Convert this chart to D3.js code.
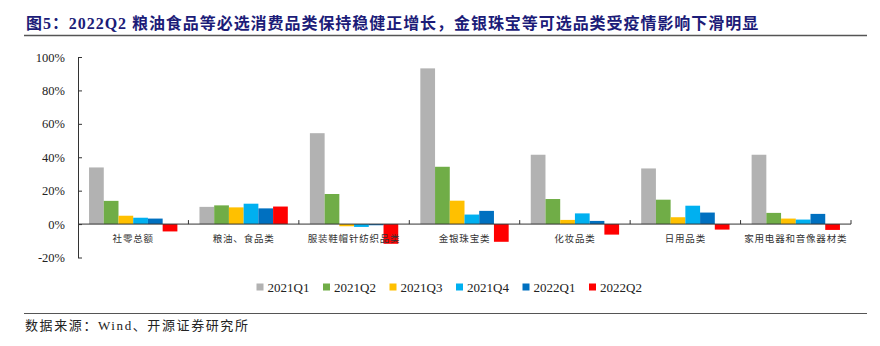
<!DOCTYPE html>
<html>
<head>
<meta charset="utf-8">
<script src="https://cdn.jsdelivr.net/npm/d3@7"></script>
<style>
  html, body { margin: 0; padding: 0; background: #fff; }
  svg { display: block; }
</style>
</head>
<body>
<svg id="chart" width="880" height="346"></svg>
<script>
// Retail sales growth by category, single-quarter YoY (%)
const categories = ["社零总额", "粮油、食品类", "服装鞋帽针纺织品类", "金银珠宝类", "化妆品类", "日用品类", "家用电器和音像器材类"];
const seriesNames = ["2021Q1", "2021Q2", "2021Q3", "2021Q4", "2022Q1", "2022Q2"];
const s2021Q1 = [33.9, 10.3, 54.4, 93.2, 41.5, 33.3, 41.5];
const s2021Q2 = [13.9, 11.2, 18.0, 34.3, 15.0, 14.6, 6.7];
const s2021Q3 = [5.0, 10.0, -1.3, 14.0, 2.5, 4.1, 3.3];
const s2021Q4 = [3.8, 12.2, -1.7, 5.7, 6.4, 11.0, 2.7];
const s2022Q1 = [3.3, 9.4, -0.7, 7.9, 1.9, 6.9, 6.1];
const s2022Q2 = [-4.4, 10.5, -11.8, -10.6, -6.3, -3.3, -3.5];
const seriesValues = [s2021Q1, s2021Q2, s2021Q3, s2021Q4, s2022Q1, s2022Q2];
const seriesColors = ["#b2b2b2", "#70ad47", "#ffc000", "#00b0f0", "#0070c0", "#ff0000"];
const yTicks = [-20, 0, 20, 40, 60, 80, 100];

const title = "图5：2022Q2 粮油食品等必选消费品类保持稳健正增长，金银珠宝等可选品类受疫情影响下滑明显";
const source = "数据来源：Wind、开源证券研究所";

const svg = d3.select("#chart");
const plot = { left: 78, right: 851, top: 57, bottom: 257.5 };

// Title and rules
svg.append("text")
  .attr("x", 26).attr("y", 29)
  .attr("fill", "#1c1c78")
  .attr("font-family", "'Liberation Serif', 'Noto Sans CJK SC', serif")
  .attr("font-weight", "bold")
  .attr("font-size", 16)
  .attr("letter-spacing", 0.95)
  .text(title);
svg.append("line").attr("x1", 24).attr("x2", 867).attr("y1", 35.5).attr("y2", 35.5)
  .attr("stroke", "#555").attr("stroke-width", 1.5);
svg.append("line").attr("x1", 24).attr("x2", 867).attr("y1", 313.5).attr("y2", 313.5)
  .attr("stroke", "#555").attr("stroke-width", 1.2);
svg.append("text")
  .attr("x", 25).attr("y", 330)
  .attr("fill", "#222")
  .attr("font-family", "'Liberation Serif', 'Noto Sans CJK SC', serif")
  .attr("font-size", 13)
  .attr("letter-spacing", 1.6)
  .text(source);

// Scales
const x0 = d3.scaleBand().domain(categories).range([plot.left, plot.right])
  .paddingInner(0.2).paddingOuter(0.1);
const x1 = d3.scaleBand().domain(seriesNames).range([0, x0.bandwidth()]).padding(0);
const y = d3.scaleLinear().domain([-20, 100]).range([plot.bottom, plot.top]);

// Bars
const groups = svg.append("g").selectAll("g")
  .data(categories)
  .join("g")
  .attr("transform", d => `translate(${x0(d)},0)`);
groups.selectAll("rect")
  .data((c, ci) => seriesNames.map((s, si) => ({ s, si, v: seriesValues[si][ci] })))
  .join("rect")
  .attr("x", d => x1(d.s))
  .attr("width", x1.bandwidth())
  .attr("y", d => y(Math.max(0, d.v)))
  .attr("height", d => Math.abs(y(d.v) - y(0)))
  .attr("fill", d => seriesColors[d.si]);

// Y axis with inward ticks
const yAxis = svg.append("g")
  .attr("transform", `translate(${plot.left},0)`)
  .call(d3.axisLeft(y).tickValues(yTicks).tickFormat(d => d + "%")
    .tickSizeInner(-4).tickSizeOuter(0).tickPadding(13));
yAxis.select(".domain").attr("stroke", "#333");
yAxis.selectAll(".tick line").attr("stroke", "#333");
yAxis.selectAll("text")
  .attr("fill", "#222")
  .attr("font-family", "'Liberation Serif', serif")
  .attr("font-size", 12.5);

// Category axis along zero line
const zeroY = y(0);
svg.append("line")
  .attr("x1", plot.left).attr("x2", plot.right)
  .attr("y1", zeroY).attr("y2", zeroY)
  .attr("stroke", "#333").attr("stroke-width", 1);
const step = x0.step();
svg.append("g").selectAll("line")
  .data(d3.range(1, categories.length + 1))
  .join("line")
  .attr("x1", i => plot.left + i * step).attr("x2", i => plot.left + i * step)
  .attr("y1", zeroY).attr("y2", zeroY - 4)
  .attr("stroke", "#333");
svg.append("g").selectAll("text")
  .data(categories)
  .join("text")
  .attr("x", d => x0(d) + x0.bandwidth() / 2)
  .attr("y", zeroY + 18)
  .attr("text-anchor", "middle")
  .attr("fill", "#333")
  .attr("font-family", "'Noto Sans CJK SC', sans-serif")
  .attr("font-size", 9.5)
  .attr("letter-spacing", 0.8)
  .text(d => d);

// Legend
const legend = svg.append("g").selectAll("g")
  .data(seriesNames)
  .join("g")
  .attr("transform", (d, i) => `translate(${256.5 + i * 66.5},287)`);
legend.append("rect")
  .attr("x", 0).attr("y", -3.5).attr("width", 7).attr("height", 7)
  .attr("fill", (d, i) => seriesColors[i]);
legend.append("text")
  .attr("x", 11).attr("y", 4.5)
  .attr("fill", "#222")
  .attr("font-family", "'Liberation Serif', serif")
  .attr("font-size", 13)
  .text(d => d);
</script>
</body>
</html>
